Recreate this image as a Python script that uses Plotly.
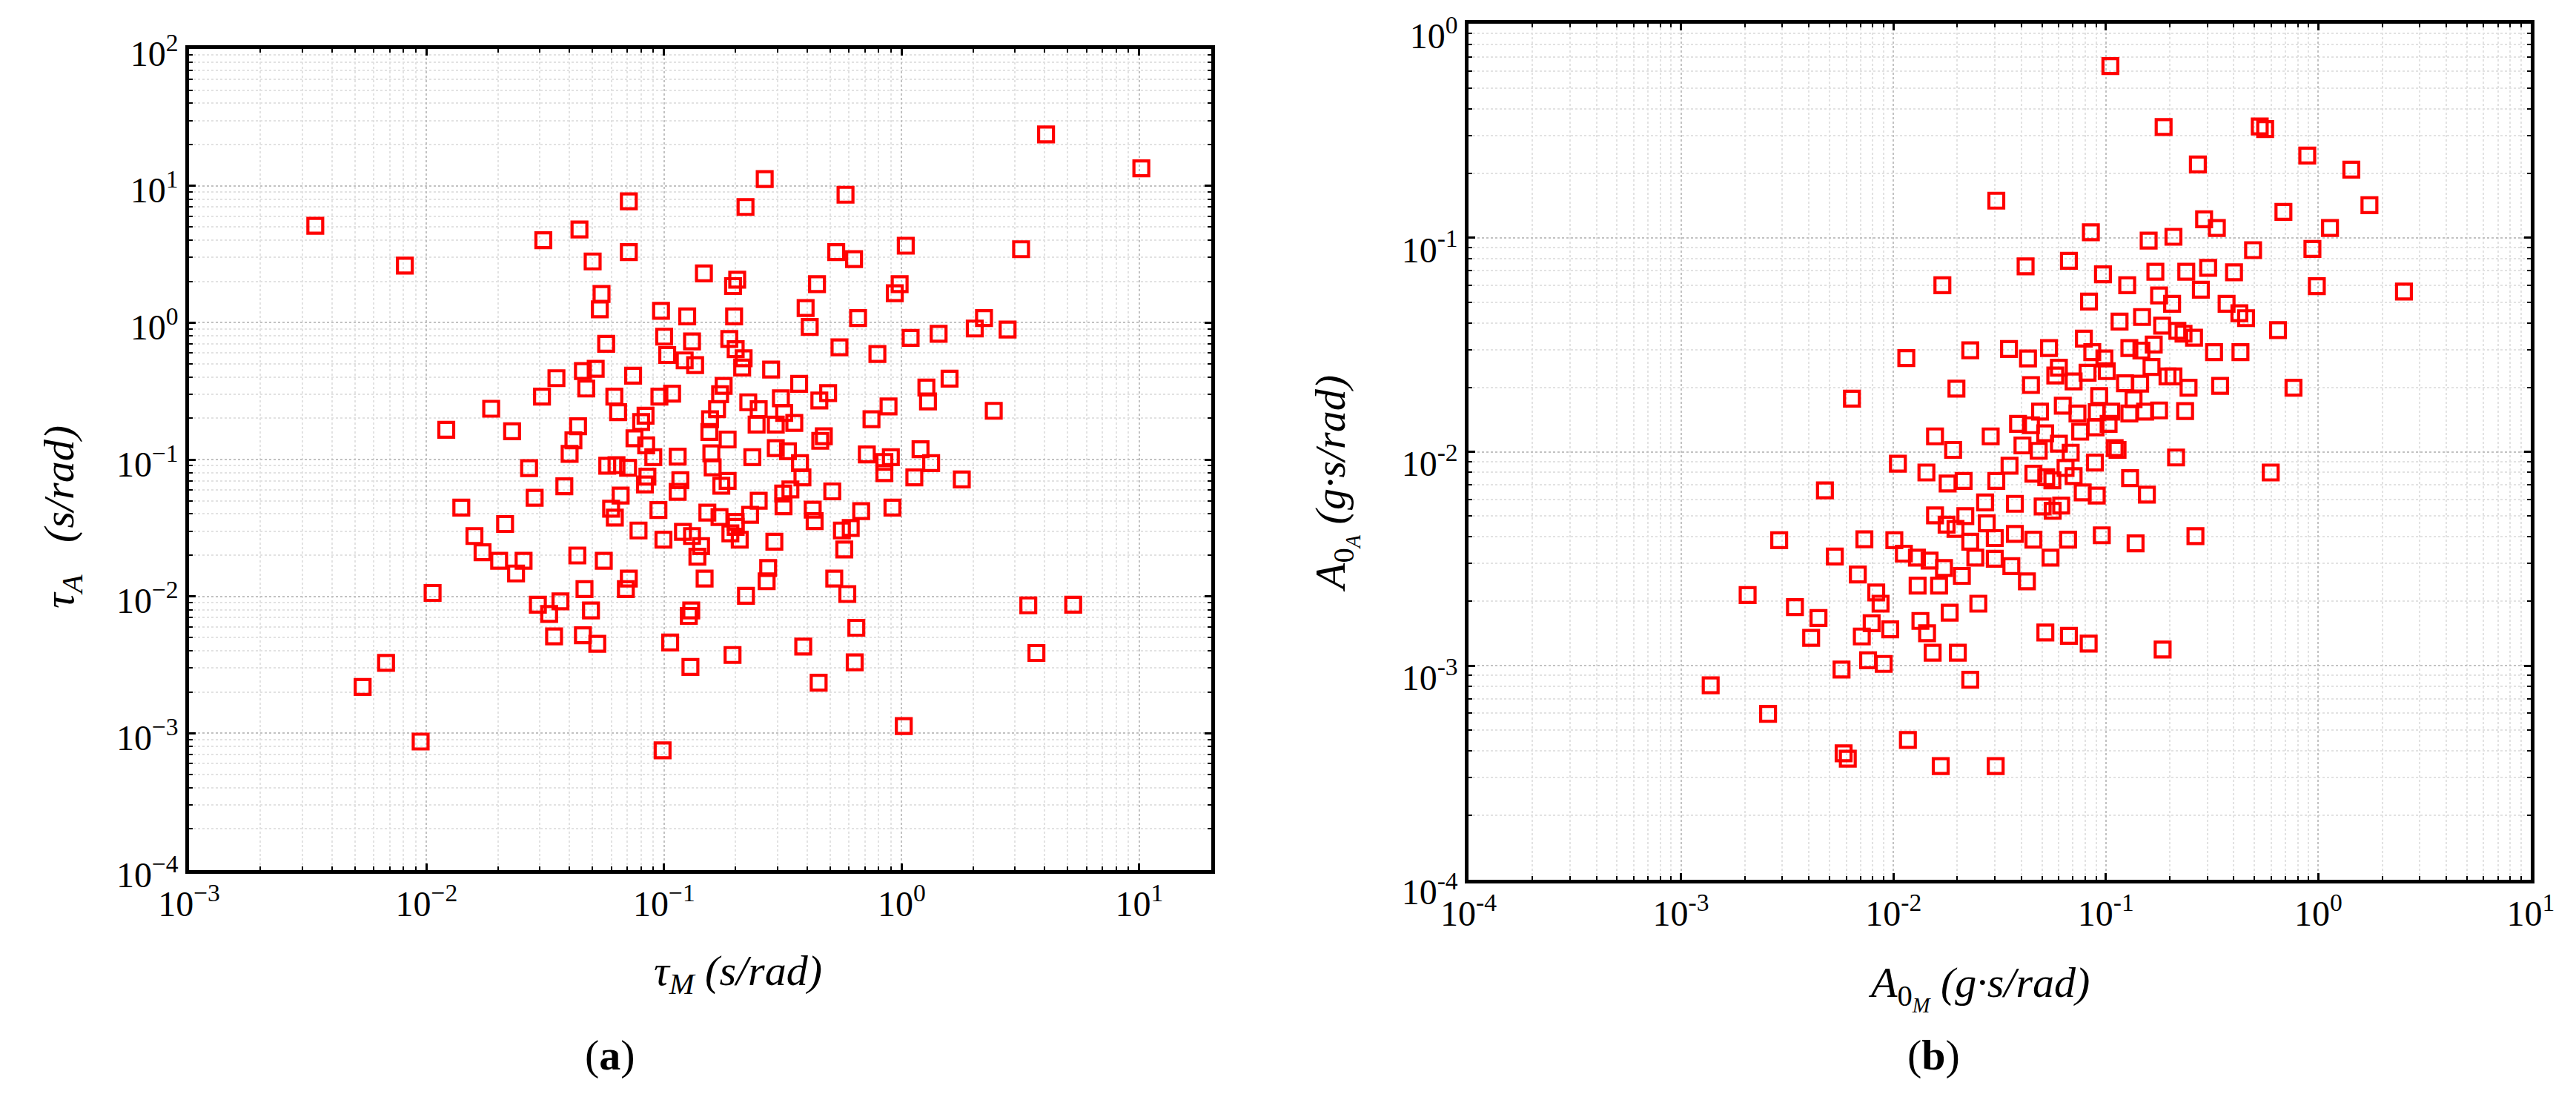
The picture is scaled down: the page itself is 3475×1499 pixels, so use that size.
import plotly.graph_objects as go

# ---------------- data (a) ----------------
tau_M = [4.05, 10.2, 0.265, 0.58, 0.071, 0.22, 0.0034, 0.044, 0.031, 1.04,
         3.18, 0.071, 0.53, 0.63, 0.050, 0.0081, 0.147, 0.203, 0.44, 0.195,
         0.98, 0.0545, 0.935, 0.0536, 0.394, 0.097, 0.125, 0.197, 0.655, 2.22,
         0.41, 2.03, 2.79, 1.43, 0.10, 1.09, 0.131, 0.188, 0.057, 0.547,
         0.20, 0.79, 0.103, 0.122, 0.216, 0.135, 0.213, 0.0515, 0.0455, 0.282,
         0.074, 0.0352, 1.59, 0.047, 0.37, 1.27, 0.178, 0.49, 0.0306, 0.0617,
         0.0955, 0.108, 0.172, 0.31, 1.29, 0.226, 0.45, 0.0187, 2.44, 0.064,
         0.167, 0.25, 0.32, 0.0121, 0.0229, 0.0835, 0.080, 0.245, 0.295, 0.353,
         0.156, 0.746, 0.88, 0.0434, 0.155, 0.0415, 0.075, 0.185, 0.454, 0.47,
         0.084, 0.040, 0.158, 0.295, 0.332, 1.2, 0.713, 0.90, 0.114, 0.235,
         0.090, 0.845, 0.027, 1.33, 0.373, 0.16, 0.063, 0.0705, 0.0576, 0.845,
         0.382, 1.13, 0.117, 1.79, 0.083, 0.174, 0.085, 0.185, 0.038, 0.34,
         0.317, 0.51, 0.0285, 0.0656, 0.114, 0.25, 0.318, 0.914, 0.014, 0.0598,
         0.0946, 0.152, 0.422, 0.675, 0.23, 0.062, 0.171, 0.2, 0.43, 0.0214,
         0.2, 0.078, 0.12, 0.56, 0.61, 0.131, 0.19, 0.0159, 0.0993, 0.208,
         0.291, 0.143, 0.573, 0.0172, 0.138, 0.0431, 0.0202, 0.0256, 0.0557, 0.0238,
         0.274, 0.27, 0.071, 0.069, 0.148, 0.52, 0.0106, 0.0462, 0.221, 0.59,
         0.0294, 0.0366, 0.0328, 0.0492, 0.130, 0.127, 3.41, 5.27, 0.644, 0.0344,
         0.0455, 0.0523, 0.106, 0.194, 0.385, 3.69, 0.00675, 0.129, 0.634, 0.00538,
         0.447, 0.00944, 0.0985, 1.02]
tau_A = [23.7, 13.4, 11.2, 8.6, 7.7, 7.0, 5.1, 4.8, 4.0, 3.65,
         3.44, 3.28, 3.28, 2.91, 2.8, 2.61, 2.29, 2.06, 1.91, 1.85,
         1.91, 1.62, 1.64, 1.25, 1.28, 1.22, 1.11, 1.11, 1.08, 1.08,
         0.93, 0.906, 0.89, 0.83, 0.79, 0.775, 0.73, 0.76, 0.70, 0.66,
         0.64, 0.59, 0.58, 0.53, 0.55, 0.49, 0.47, 0.46, 0.443, 0.454,
         0.41, 0.393, 0.39, 0.33, 0.357, 0.336, 0.345, 0.306, 0.288, 0.288,
         0.288, 0.303, 0.30, 0.28, 0.266, 0.262, 0.27, 0.235, 0.227, 0.222,
         0.233, 0.233, 0.219, 0.165, 0.161, 0.209, 0.188, 0.18, 0.18, 0.185,
         0.197, 0.197, 0.244, 0.175, 0.159, 0.138, 0.143, 0.14, 0.137, 0.148,
         0.127, 0.11, 0.111, 0.121, 0.115, 0.119, 0.109, 0.104, 0.105, 0.104,
         0.104, 0.096, 0.0865, 0.094, 0.094, 0.0877, 0.091, 0.087, 0.09, 0.0796,
         0.074, 0.074, 0.0706, 0.0716, 0.0658, 0.0643, 0.075, 0.0697, 0.0637, 0.0605,
         0.0564, 0.0585, 0.0525, 0.0545, 0.058, 0.050, 0.0455, 0.0445, 0.0445, 0.0437,
         0.0428, 0.0409, 0.043, 0.042, 0.0394, 0.0376, 0.038, 0.035, 0.0355, 0.0338,
         0.0322, 0.0303, 0.0296, 0.0303, 0.0316, 0.0276, 0.0289, 0.0276, 0.026, 0.026,
         0.0251, 0.0233, 0.022, 0.021, 0.0195, 0.0199, 0.0182, 0.0182, 0.0182, 0.0147,
         0.0161, 0.0129, 0.0135, 0.0113, 0.0135, 0.0135, 0.0106, 0.0113, 0.0101, 0.0104,
         0.0087, 0.0092, 0.00745, 0.0079, 0.0079, 0.0072, 0.0086, 0.0087, 0.0059, 0.0051,
         0.0052, 0.0045, 0.0046, 0.00373, 0.0043, 0.00386, 0.00327, 0.00305, 0.0033, 0.00218,
         0.00234, 0.00087, 0.00075, 0.00113]

# ---------------- data (b) ----------------
A0_M = [0.105, 0.187, 0.53, 0.562, 0.887, 0.271, 1.43, 1.74, 0.685, 0.29,
        0.333, 1.135, 0.085, 0.159, 0.208, 0.493, 0.938, 0.0419, 0.067, 0.0969,
        0.171, 0.239, 0.303, 0.401, 0.126, 0.984, 2.53, 0.28, 0.0833, 0.178,
        0.205, 0.37, 0.116, 0.148, 0.425, 0.457, 0.184, 0.217, 0.232, 0.26,
        0.646, 0.0788, 0.168, 0.054, 0.035, 0.043, 0.129, 0.147, 0.323, 0.43,
        0.0863, 0.0984, 0.0601, 0.164, 0.082, 0.101, 0.0578, 0.0705, 0.123, 0.145,
        0.195, 0.208, 0.0444, 0.245, 0.345, 0.764, 0.093, 0.135, 0.049, 0.0627,
        0.0735, 0.0906, 0.106, 0.129, 0.153, 0.178, 0.236, 0.0386, 0.0444, 0.0518,
        0.0757, 0.0894, 0.103, 0.0405, 0.0483, 0.0601, 0.0683, 0.0888, 0.11, 0.1135,
        0.214, 0.597, 0.0352, 0.0456, 0.0524, 0.056, 0.0646, 0.13, 0.0705, 0.0778,
        0.0906, 0.156, 0.0373, 0.0504, 0.0562, 0.0616, 0.0373, 0.0456, 0.0664, 0.0957,
        0.138, 0.264, 0.0549, 0.0359, 0.0425,
        0.0305, 0.017, 0.023, 0.0115, 0.0198, 0.00638, 0.0157, 0.0287, 0.0191, 0.0105,
        0.0143, 0.0214, 0.018, 0.0305, 0.00476, 0.027, 0.0157, 0.0218, 0.0178, 0.0196,
        0.0275, 0.030, 0.023, 0.0073, 0.0101, 0.0029, 0.0112, 0.0129, 0.0148, 0.0243,
        0.030, 0.0053, 0.0173, 0.021, 0.0164, 0.013, 0.0068, 0.0083, 0.0087, 0.0251,
        0.0184, 0.00206, 0.00344, 0.00444, 0.0079, 0.0134, 0.0041, 0.0071, 0.00966, 0.0144,
        0.0519, 0.067, 0.083, 0.185, 0.0076, 0.009, 0.0057, 0.0153, 0.0201, 0.023,
        0.00138, 0.00257, 0.0117, 0.00583, 0.0061, 0.0167, 0.0303]
A0_A = [0.634, 0.329, 0.331, 0.322, 0.242, 0.22, 0.208, 0.142, 0.132, 0.122,
        0.111, 0.111, 0.106, 0.097, 0.101, 0.0875, 0.0886, 0.0735, 0.078, 0.0674,
        0.0694, 0.0694, 0.0723, 0.0689, 0.06, 0.0594, 0.056, 0.0572, 0.0503, 0.0537,
        0.0491, 0.0491, 0.0406, 0.0426, 0.0444, 0.0421, 0.0388, 0.0367, 0.0356, 0.0341,
        0.037, 0.0338, 0.0317, 0.0305, 0.0302, 0.0273, 0.0305, 0.0297, 0.0292, 0.0292,
        0.0292, 0.0273, 0.0247, 0.0249, 0.0234, 0.0238, 0.0227, 0.0213, 0.0209, 0.0208,
        0.0225, 0.0225, 0.0205, 0.0199, 0.0203, 0.0199, 0.0182, 0.0176, 0.0154, 0.0164,
        0.0151, 0.0153, 0.0154, 0.0151, 0.0154, 0.0156, 0.0155, 0.0135, 0.0133, 0.0122,
        0.0124, 0.013, 0.0135, 0.0107, 0.0101, 0.0109, 0.0099, 0.0089, 0.0104, 0.0102,
        0.0094, 0.008, 0.0086, 0.0079, 0.0076, 0.00735, 0.0084, 0.00753, 0.0077, 0.00646,
        0.00624, 0.0063, 0.00571, 0.00555, 0.0053, 0.0056, 0.00413, 0.00388, 0.00388, 0.00407,
        0.00373, 0.00403, 0.0032, 0.00292, 0.00248,
        0.149, 0.060, 0.0298, 0.0274, 0.0197, 0.0177, 0.0118, 0.0118, 0.0102, 0.0088,
        0.008, 0.0073, 0.0071, 0.0073, 0.0066, 0.0058, 0.00504, 0.005, 0.00456, 0.00436,
        0.00463, 0.00395, 0.0038, 0.0039, 0.00386, 0.00386, 0.00334, 0.0032, 0.0031, 0.0032,
        0.00316, 0.00324, 0.00286, 0.00263, 0.00237, 0.00237, 0.00267, 0.0022, 0.00195, 0.00195,
        0.00177, 0.00214, 0.00188, 0.00167, 0.00158, 0.00162, 0.00135, 0.00137, 0.00148, 0.00142,
        0.00143, 0.00138, 0.00127, 0.00119, 0.00106, 0.00102, 0.00096, 0.00115, 0.00115, 0.00086,
        0.00081, 0.000596, 0.00045, 0.00039, 0.000368, 0.00034, 0.00034]

# tick labels
a_x_vals = [1e-3, 1e-2, 1e-1, 1e0, 1e1]
a_x_text = ["10<sup>\u22123</sup>", "10<sup>\u22122</sup>", "10<sup>\u22121</sup>", "10<sup>0</sup>", "10<sup>1</sup>"]
a_y_vals = [1e-4, 1e-3, 1e-2, 1e-1, 1e0, 1e1, 1e2]
a_y_text = ["10<sup>\u22124</sup>", "10<sup>\u22123</sup>", "10<sup>\u22122</sup>", "10<sup>\u22121</sup>",
            "10<sup>0</sup>", "10<sup>1</sup>", "10<sup>2</sup>"]
b_x_vals = [1e-4, 1e-3, 1e-2, 1e-1, 1e0, 1e1]
b_x_text = ["10<sup>-4</sup>", "10<sup>-3</sup>", "10<sup>-2</sup>", "10<sup>-1</sup>", "10<sup>0</sup>", "10<sup>1</sup>"]
b_y_vals = [1e-4, 1e-3, 1e-2, 1e-1, 1e0]
b_y_text = ["10<sup>-4</sup>", "10<sup>-3</sup>", "10<sup>-2</sup>", "10<sup>-1</sup>", "10<sup>0</sup>"]


def minor_positions(lo, hi):
    return [m * 10.0 ** e for e in range(lo, hi) for m in range(2, 10)]


W, H = 3475, 1499
RED = "#ff0000"
FONT = "Liberation Serif"

marker = dict(symbol="square-open", size=20, color=RED, line=dict(color=RED, width=4.2))

fig = go.Figure()
fig.add_trace(go.Scatter(x=tau_M, y=tau_A, mode="markers", marker=marker,
                         xaxis="x", yaxis="y", showlegend=False))
fig.add_trace(go.Scatter(x=A0_M, y=A0_A, mode="markers", marker=marker,
                         xaxis="x2", yaxis="y2", showlegend=False))


def axis(rng, vals, text, domain, anchor, mlo, mhi, shift=0):
    return dict(
        type="log", range=rng, domain=domain, anchor=anchor, automargin=False,
        tickmode="array", tickvals=vals, ticktext=text, ticklabeloverflow="allow",
        ticklabelshift=shift,
        ticks="inside", ticklen=9, tickwidth=3, tickcolor="black",
        showline=True, linewidth=4.5, linecolor="black", mirror="allticks",
        showgrid=True, gridcolor="#c2c2c2", gridwidth=2, griddash="dot",
        zeroline=False,
        tickfont=dict(family=FONT, size=48, color="black"),
        minor=dict(tickmode="array", tickvals=minor_positions(mlo, mhi),
                   ticks="inside", ticklen=5, tickwidth=2, tickcolor="black",
                   showgrid=True, gridcolor="#e2e2e2", gridwidth=1.5, griddash="dot"),
    )


fig.update_layout(
    width=W, height=H,
    margin=dict(l=0, r=0, t=0, b=0, autoexpand=False),
    paper_bgcolor="white", plot_bgcolor="white",
    xaxis=axis([-3, 1.303], a_x_vals, a_x_text, [247 / W, 1626 / W], "y", -3, 2),
    yaxis=axis([-4, 2], a_y_vals, a_y_text, [1 - 1166 / H, 1 - 58 / H], "x", -4, 2, 6),
    xaxis2=axis([-4, 1], b_x_vals, b_x_text, [1973 / W, 3406 / W], "y2", -4, 1),
    yaxis2=axis([-4, 0], b_y_vals, b_y_text, [1 - 1179 / H, 1 - 24 / H], "x2", -4, 0, 16),
)

tfont = dict(family=FONT, size=58, color="black")
ann = [
    dict(text="<i>\u03c4<sub>M</sub> (s/rad)</i>", x=987 / W, y=1 - 1305 / H),
    dict(text="<i>A</i><sub>0<sub><i>M</i></sub></sub> <i>(g\u00b7s/rad)</i>", x=2661 / W, y=1 - 1324 / H),
    dict(text="<i>\u03c4<sub>A</sub>\u00a0\u00a0\u00a0(s/rad)</i>", x=76 / W, y=1 - 690 / H, textangle=-90),
    dict(text="<i>A</i><sub>0<sub><i>A</i></sub></sub> <i>(g\u00b7s/rad)</i>", x=1794 / W, y=1 - 645 / H, textangle=-90),
    dict(text="(<b>a</b>)", x=815 / W, y=1 - 1415 / H),
    dict(text="(<b>b</b>)", x=2600 / W, y=1 - 1415 / H),
]
for a in ann:
    a.update(xref="paper", yref="paper", showarrow=False, font=tfont,
             xanchor="center", yanchor="middle")
fig.update_layout(annotations=ann)

fig.write_html("out.html")
